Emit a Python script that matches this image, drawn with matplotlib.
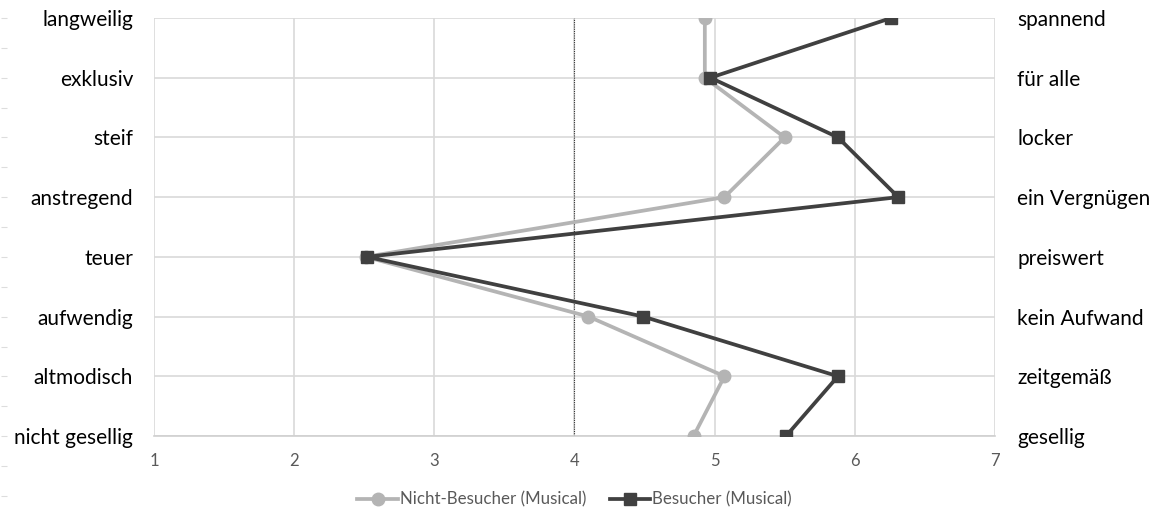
import matplotlib
matplotlib.use("Agg")
import matplotlib.pyplot as plt
import numpy as np

# Polaritaetsprofil: links negativer Pol, rechts positiver Pol (von oben nach unten)
links = ["langweilig", "exklusiv", "steif", "anstregend", "teuer",
         "aufwendig", "altmodisch", "nicht gesellig"]
rechts = ["spannend", "für alle", "locker", "ein Vergnügen", "preiswert",
          "kein Aufwand", "zeitgemäß", "gesellig"]
nicht_besucher = [4.93, 4.93, 5.50, 5.07, 2.51, 4.10, 5.07, 4.85]
besucher = [6.26, 4.97, 5.88, 6.31, 2.52, 4.49, 5.88, 5.51]
x_ticks = [1, 2, 3, 4, 5, 6, 7]

plt.rcParams["font.family"] = ["Lato", "DejaVu Sans"]

fig = plt.figure(figsize=(11.56, 5.11), dpi=100)
ax = fig.add_axes([0.1332, 0.1468, 0.7275, 0.818])

y = np.arange(len(links))[::-1]  # oberste Kategorie oben

ax.plot(nicht_besucher, y, color="#B4B4B4", lw=2.7, marker="o", ms=9,
        label="Nicht-Besucher (Musical)", zorder=3)
ax.plot(besucher, y, color="#404040", lw=2.7, marker="s", ms=9,
        label="Besucher (Musical)", zorder=4)

ax.axvline(4, color="#333333", lw=0.8, ls=(0, (1, 1)), zorder=2)

ax.set_xlim(1, 7)
ax.set_ylim(0, len(links) - 1)
ax.set_xticks(x_ticks)
ax.set_xticklabels([str(v) for v in x_ticks])
ax.set_yticks(y)
ax.set_yticklabels(links)
ax.grid(color="#D9D9D9", lw=1.2, zorder=0)
ax.set_axisbelow(True)
for s in ax.spines.values():
    s.set_visible(False)
ax.spines["bottom"].set_visible(True)
ax.spines["bottom"].set_color("#D0D0D0")
ax.spines["bottom"].set_linewidth(1.2)
ax.tick_params(axis="x", length=0, pad=12, labelsize=12, labelcolor="#595959")
ax.tick_params(axis="y", length=0, pad=15, labelsize=15, labelcolor="black")

ax2 = ax.twinx()
ax2.set_ylim(ax.get_ylim())
ax2.set_yticks(y)
ax2.set_yticklabels(rechts)
ax2.tick_params(axis="y", length=0, pad=16, labelsize=15)
for s in ax2.spines.values():
    s.set_visible(False)

# kleine Striche am linken Rand
side = fig.add_axes([0.006, 0.0294, 0.001, 0.9354])
side.set_ylim(-1, 7)
side.set_yticks(np.arange(-1, 7.01, 0.5))
side.set_yticklabels([])
side.set_xticks([])
side.tick_params(axis="y", length=4, color="#DDDDDD", width=0.8)
for s in side.spines.values():
    s.set_visible(False)

ax.legend(loc="upper center", bbox_to_anchor=(0.5, -0.097), ncol=2, frameon=False,
          fontsize=12.2, labelcolor="#595959", handlelength=2.4, handletextpad=0.1,
          columnspacing=1.4)

fig.savefig("out.png", dpi=100)
